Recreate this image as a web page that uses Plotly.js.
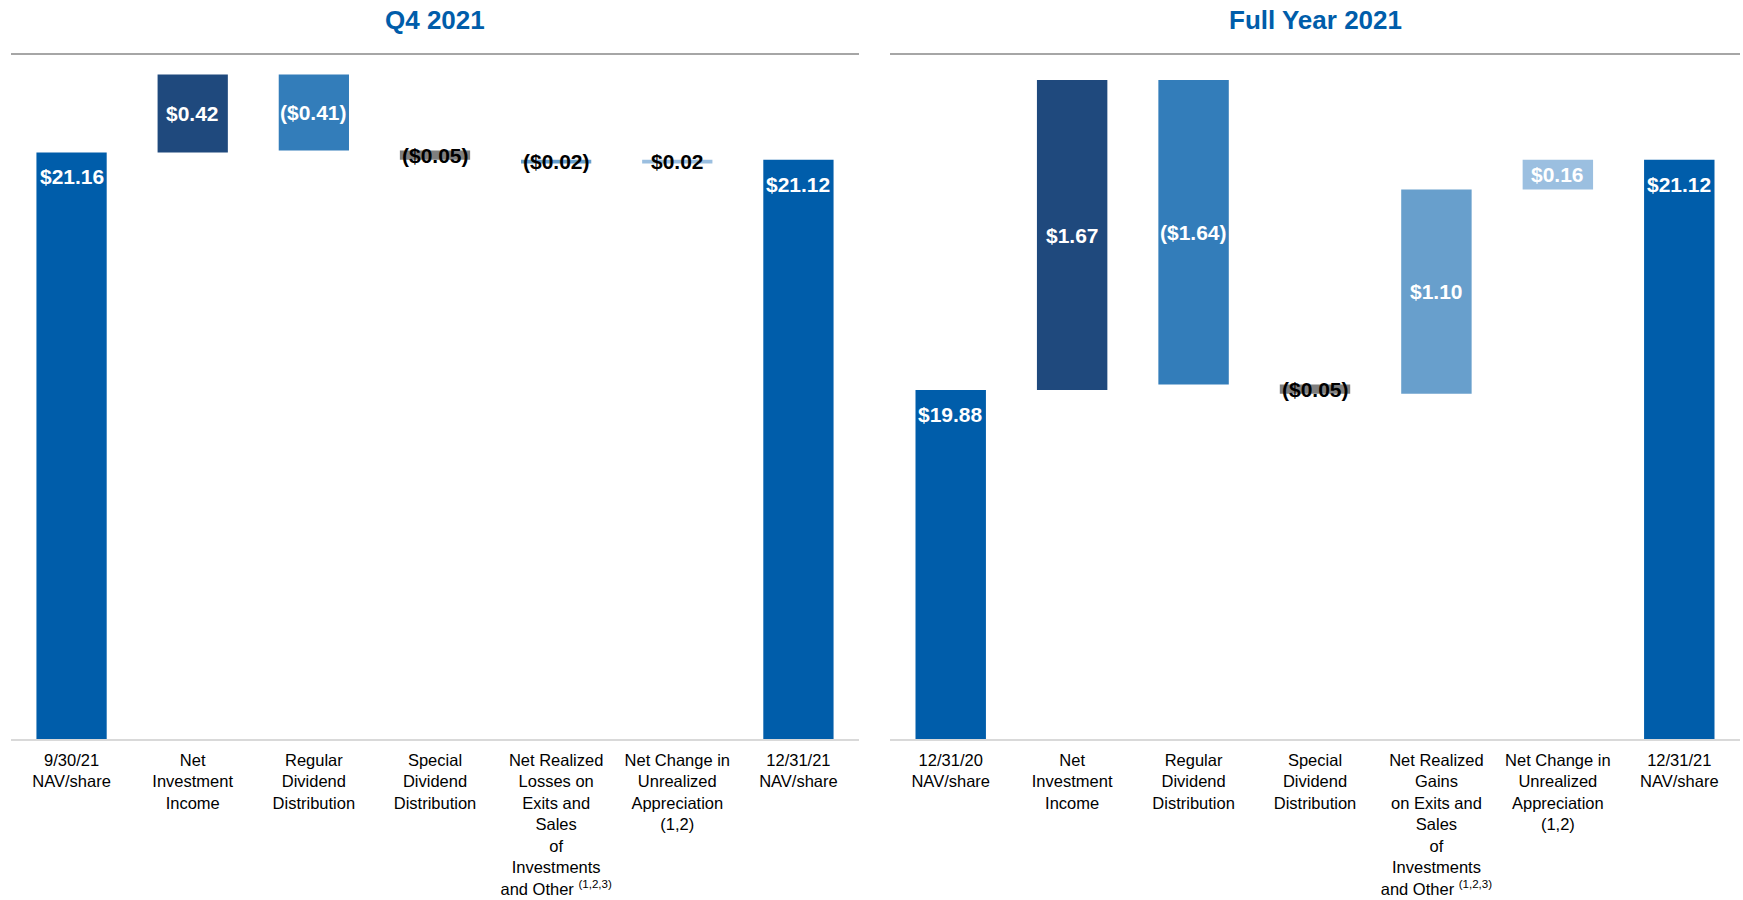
<!DOCTYPE html>
<html>
<head>
<meta charset="utf-8">
<script src="https://cdn.plot.ly/plotly-3.0.1.min.js"></script>
<style>
  html, body { margin: 0; padding: 0; background: #ffffff; }
  #chart { width: 1743px; height: 900px; }
</style>
</head>
<body>
<div id="chart"></div>
<script>
// ---- Data ----
const q4Title = 'Q4 2021';
const fyTitle = 'Full Year 2021';

const q4Categories = [
  '9/30/21<br>NAV/share',
  'Net<br>Investment<br>Income',
  'Regular<br>Dividend<br>Distribution',
  'Special<br>Dividend<br>Distribution',
  'Net Realized<br>Losses on<br>Exits and<br>Sales<br>of<br>Investments<br>and Other <sup>(1,2,3)</sup>',
  'Net Change in<br>Unrealized<br>Appreciation<br>(1,2)',
  '12/31/21<br>NAV/share'
];
const q4Values = [21.16, 0.42, -0.41, -0.05, -0.02, 0.02, 21.12];
const q4Labels = ['$21.16', '$0.42', '($0.41)', '($0.05)', '($0.02)', '$0.02', '$21.12'];

const fyCategories = [
  '12/31/20<br>NAV/share',
  'Net<br>Investment<br>Income',
  'Regular<br>Dividend<br>Distribution',
  'Special<br>Dividend<br>Distribution',
  'Net Realized<br>Gains<br>on Exits and<br>Sales<br>of<br>Investments<br>and Other <sup>(1,2,3)</sup>',
  'Net Change in<br>Unrealized<br>Appreciation<br>(1,2)',
  '12/31/21<br>NAV/share'
];
const fyValues = [19.88, 1.67, -1.64, -0.05, 1.10, 0.16, 21.12];
const fyLabels = ['$19.88', '$1.67', '($1.64)', '($0.05)', '$1.10', '$0.16', '$21.12'];

// 'total' bars start from zero, 'relative' bars float on the running total
const stepTypes = ['total', 'relative', 'relative', 'relative', 'relative', 'relative', 'total'];

// ---- Style ----
const barColors = ['#005DAA', '#1F497D', '#337DBA', '#7F7F7F', '#689FCC', '#9BBFE0', '#005DAA'];
const q4LabelColors = ['#FFFFFF', '#FFFFFF', '#FFFFFF', '#000000', '#000000', '#000000', '#FFFFFF'];
const fyLabelColors = ['#FFFFFF', '#FFFFFF', '#FFFFFF', '#000000', '#FFFFFF', '#FFFFFF', '#FFFFFF'];
const titleColor = '#005DAA';
const FONT = 'Liberation Sans, Arial, sans-serif';

function waterfall(values) {
  const bases = [];
  let running = 0;
  values.forEach((v, i) => {
    if (stepTypes[i] === 'total') { bases.push(0); running = v; }
    else { bases.push(running); running += v; }
  });
  return bases;
}

const q4Bases = waterfall(q4Values);
const fyBases = waterfall(fyValues);

function barTrace(cats, vals, bases, xa, ya) {
  return {
    type: 'bar', x: cats, y: vals, base: bases,
    xaxis: xa, yaxis: ya,
    marker: { color: barColors, line: { width: 0 } },
    hoverinfo: 'skip', showlegend: false
  };
}

function labelAnnotations(cats, vals, bases, labels, colors, xa, ya) {
  return cats.map((c, i) => {
    const total = stepTypes[i] === 'total';
    return {
      x: c, xref: xa, yref: ya,
      y: total ? vals[i] : bases[i] + vals[i] / 2,
      yanchor: total ? 'top' : 'middle',
      yshift: total ? -11 : 0,
      text: labels[i], showarrow: false,
      font: { family: FONT, size: 21, color: colors[i], weight: 'bold' }
    };
  });
}

const data = [
  barTrace(q4Categories, q4Values, q4Bases, 'x', 'y'),
  barTrace(fyCategories, fyValues, fyBases, 'x2', 'y2')
];

const yRange = [18.0, 21.69];
const xCommon = {
  type: 'category', showgrid: false, zeroline: false,
  showline: true, linecolor: '#D9D9D9', linewidth: 2,
  ticks: '', tickangle: 0, automargin: false, ticklabelstandoff: 5,
  tickfont: { family: FONT, size: 16.5, color: '#000000' }
};
const yCommon = { range: yRange, visible: false, showgrid: false, zeroline: false, fixedrange: true };

const annotations = [
  { text: q4Title, xref: 'x domain', yref: 'paper', x: 0.5, y: 1, yanchor: 'middle', yshift: 34,
    showarrow: false, font: { family: FONT, size: 26, color: titleColor, weight: 'bold' } },
  { text: fyTitle, xref: 'x2 domain', yref: 'paper', x: 0.5, y: 1, yanchor: 'middle', yshift: 34,
    showarrow: false, font: { family: FONT, size: 26, color: titleColor, weight: 'bold' } }
].concat(
  labelAnnotations(q4Categories, q4Values, q4Bases, q4Labels, q4LabelColors, 'x', 'y'),
  labelAnnotations(fyCategories, fyValues, fyBases, fyLabels, fyLabelColors, 'x2', 'y2')
);

const layout = {
  width: 1743, height: 900,
  margin: { l: 0, r: 0, t: 54, b: 161 },
  paper_bgcolor: '#FFFFFF', plot_bgcolor: '#FFFFFF',
  bargap: 0.42,
  xaxis: Object.assign({}, xCommon, { domain: [11 / 1743, 859 / 1743], anchor: 'y' }),
  xaxis2: Object.assign({}, xCommon, { domain: [890 / 1743, 1740 / 1743], anchor: 'y2' }),
  yaxis: Object.assign({}, yCommon, { anchor: 'x' }),
  yaxis2: Object.assign({}, yCommon, { anchor: 'x2' }),
  shapes: [
    { type: 'line', xref: 'x domain', yref: 'paper', x0: 0, x1: 1, y0: 1, y1: 1,
      line: { color: '#A6A6A6', width: 2 } },
    { type: 'line', xref: 'x2 domain', yref: 'paper', x0: 0, x1: 1, y0: 1, y1: 1,
      line: { color: '#A6A6A6', width: 2 } }
  ],
  annotations: annotations,
  font: { family: FONT }
};

Plotly.newPlot('chart', data, layout, { displayModeBar: false, staticPlot: true });
</script>
</body>
</html>
